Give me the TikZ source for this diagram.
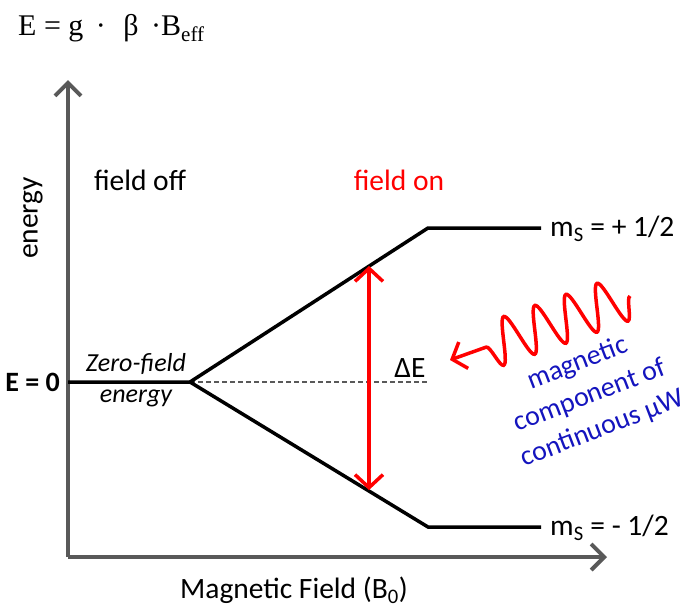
\documentclass[tikz,border=0pt]{standalone}
\usepackage{fontspec}
\setmainfont{Carlito}
\newfontfamily\formulafont{Liberation Serif}
\usetikzlibrary{arrows.meta,decorations.pathmorphing}
\definecolor{axisgray}{RGB}{89,89,89}
\definecolor{mwblue}{RGB}{20,20,190}

\begin{document}
\begin{tikzpicture}[x=1pt, y=-1pt,
  axis/.style={axisgray, line width=4pt, -{Straight Barb[length=13pt, width=26pt, line width=4pt]}},
  level/.style={black, line width=3.5pt},
  lbl/.style={font=\fontsize{29.5}{32}\selectfont, inner sep=0pt},
  zlbl/.style={font=\fontsize{26}{28}\selectfont\itshape, inner sep=0pt},
  wave/.style={red, line width=3.5pt, decorate,
    decoration={snake, amplitude=23pt, segment length=33pt, post length=30pt},
    -{Straight Barb[length=12pt, width=28pt, line width=3.5pt]}}]
  \useasboundingbox (0,0) rectangle (689,608);

  % axes
  \coordinate (o) at (68,557);
  \coordinate (ytip) at (68,80);
  \coordinate (xtip) at (607,557);
  \draw[axis] (o) -- (ytip);
  \draw[axis] (o) -- (xtip);

  % energy levels
  \coordinate (zf) at (68,382);
  \coordinate (split) at (190,382);
  \coordinate (up) at (428,228);
  \coordinate (upend) at (541,228);
  \coordinate (lo) at (428,527);
  \coordinate (loend) at (541,527);
  \coordinate (mid) at (428,382);
  \draw[axisgray, line width=1.5pt, dash pattern=on 5pt off 3pt] (split) -- (mid);
  \draw[level, line join=miter] (zf) -- (split) -- (up) -- (upend);
  \draw[level, line join=miter] (split) -- (lo) -- (loend);

  % transition
  \coordinate (tup) at (369,266);
  \coordinate (tlo) at (369,490);
  \draw[red, line width=3.5pt, {Straight Barb[length=13pt, width=28pt, line width=3.5pt]}-{Straight Barb[length=13pt, width=28pt, line width=3.5pt]}] (tlo) -- (tup);

  % microwave
  \coordinate (wstart) at (630,296);
  \coordinate (wtip) at (450,360);
  \draw[wave] (wstart) -- (wtip);

  % labels
  \node[anchor=west, font=\formulafont\fontsize{30}{32}\selectfont, inner sep=0pt] (eq) at (18,28)
    {E = g \,·\,\, β \,·B\textsubscript{eff}};
  \node[lbl, rotate=90] (ylab) at (33,218) {energy};
  \node[lbl] (xlab) at (294,590) {Magnetic Field (B\textsubscript{0})};
  \node[lbl] (off) at (140,180) {field off};
  \node[lbl, red] (on) at (399,180) {field on};
  \node[lbl, anchor=east, font=\fontsize{28}{30}\selectfont\bfseries] (ezero) at (60,382) {E = 0};
  \node[zlbl] (zf1) at (136,364) {Zero-field};
  \node[zlbl] (zf2) at (136,398) {energy};
  \node[lbl] (de) at (410,368) {ΔE};
  \node[lbl, anchor=west] (mup) at (550,229) {m\textsubscript{S} = + 1/2};
  \node[lbl, anchor=west] (mlo) at (550,528) {m\textsubscript{S} = - 1/2};
  \node[mwblue, rotate=21, align=center, inner sep=0pt, font=\fontsize{28}{35}\selectfont] (mw) at (590,396)
    {magnetic\\component of\\continuous μW};
\end{tikzpicture}
\end{document}
